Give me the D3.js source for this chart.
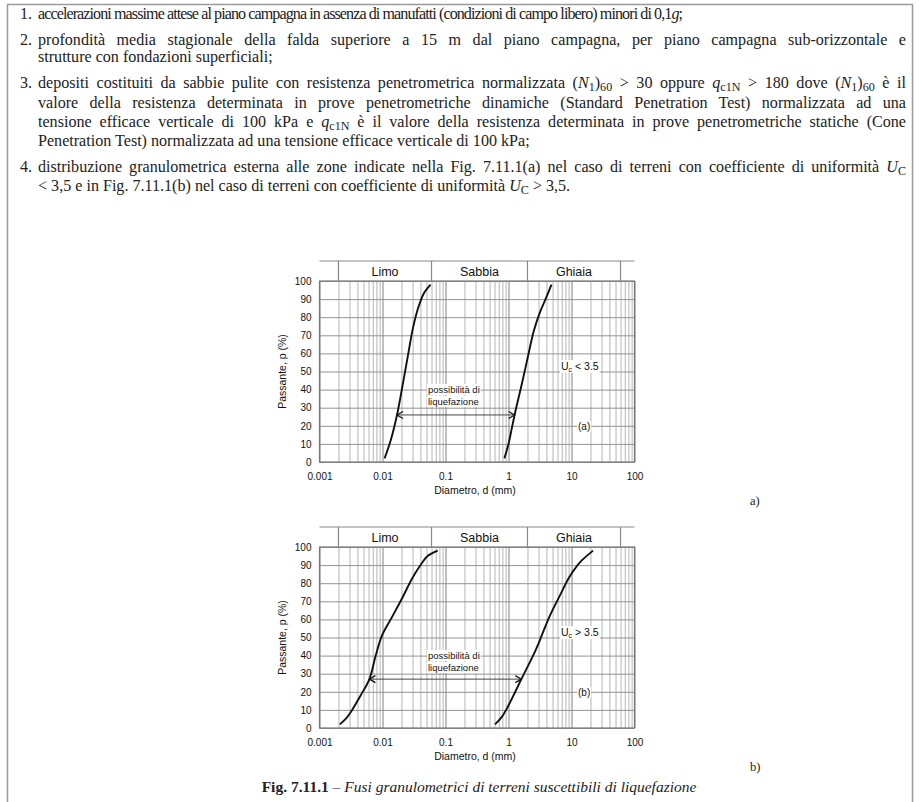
<!DOCTYPE html>
<html>
<head>
<meta charset="utf-8">
<script src="https://d3js.org/d3.v7.min.js"></script>
<style>
  body { margin: 0; background: #fff; }
</style>
</head>
<body>
<div id="pagina"></div>
<script>
// --- testo dell'elenco (markup minimo: <i>, <sub>)
var numeri = ["1.", "2.", "", "3.", "", "", "", "4.", ""];
var righe = [
  "accelerazioni massime attese al piano campagna in assenza di manufatti (condizioni di campo libero) minori di 0,1<i>g</i>;",
  "profondità media stagionale della falda superiore a 15 m dal piano campagna, per piano campagna sub-orizzontale e",
  "strutture con fondazioni superficiali;",
  "depositi costituiti da sabbie pulite con resistenza penetrometrica normalizzata (<i>N</i><sub>1</sub>)<sub>60</sub> > 30 oppure <i>q</i><sub>c1N</sub> > 180 dove (<i>N</i><sub>1</sub>)<sub>60</sub> è il",
  "valore della resistenza determinata in prove penetrometriche dinamiche (Standard Penetration Test) normalizzata ad una",
  "tensione efficace verticale di 100 kPa e <i>q</i><sub>c1N</sub> è il valore della resistenza determinata in prove penetrometriche statiche (Cone",
  "Penetration Test) normalizzata ad una tensione efficace verticale di 100 kPa;",
  "distribuzione granulometrica esterna alle zone indicate nella Fig. 7.11.1(a) nel caso di terreni con coefficiente di uniformità <i>U</i><sub>C</sub>",
  "< 3,5 e in Fig. 7.11.1(b) nel caso di terreni con coefficiente di uniformità <i>U</i><sub>C</sub> > 3,5."
];
// larghezza della riga: 868 = giustificata, 645 = prima riga (stretta nella scansione), 0 = naturale
var larghezze = [645, 868, 0, 868, 868, 868, 0, 868, 0];
var baseRighe = [19, 45, 62, 88, 108, 127, 146, 172, 191];

// --- dati dei grafici
var diametriTick = [0.001, 0.01, 0.1, 1, 10, 100];
var etichetteX = ["0.001", "0.01", "0.1", "1", "10", "100"];
var passanteTick = [0, 10, 20, 30, 40, 50, 60, 70, 80, 90, 100];
var classi = ["Limo", "Sabbia", "Ghiaia"];
var limitiClassi = [0.002, 0.06, 2, 60];

// fuso (a): Uc < 3.5  [diametro mm, passante %]
var fusoA_sx = [[0.0108, 2], [0.0135, 12], [0.017, 26], [0.0215, 45], [0.026, 61], [0.030, 73], [0.036, 84], [0.045, 93], [0.058, 98]];
var fusoA_dx = [[0.86, 2], [1.0, 10], [1.12, 18], [1.25, 26], [1.6, 42], [2.0, 57], [2.5, 72], [3.1, 82], [4.1, 92], [4.8, 98]];
// fuso (b): Uc > 3.5
var fusoB_sx = [[0.0021, 2], [0.0026, 5], [0.0033, 10], [0.0045, 18], [0.0062, 27], [0.0078, 40], [0.0098, 51], [0.014, 61], [0.020, 71], [0.030, 83], [0.042, 91], [0.052, 95], [0.075, 98]];
var fusoB_dx = [[0.61, 2], [0.78, 6], [0.95, 11], [1.2, 18], [1.6, 27], [2.7, 43], [4.4, 61], [6.5, 73], [9.1, 83], [12.5, 90], [15, 93], [22, 98]];

var W = 920, H = 802;
var svg = d3.select("#pagina").append("svg")
  .attr("width", W).attr("height", H)
  .style("background", "#fff");

// cornice della pagina
svg.append("rect")
  .attr("x", 7.5).attr("y", 4.5).attr("width", 905).attr("height", 830)
  .attr("fill", "none").attr("stroke", "#9a9a9a").attr("stroke-width", 1.5);

// scrive il markup dentro un <text> con tspan
function scrivi(t, markup) {
  var parti = markup.split(/(<i>.*?<\/i>|<sub>.*?<\/sub>)/);
  var giu = false;
  parti.forEach(function(p) {
    if (!p) return;
    var s = t.append("tspan");
    if (p.indexOf("<sub>") === 0) {
      s.text(p.slice(5, -6)).attr("font-size", "0.75em");
      if (!giu) { s.attr("dy", 3); giu = true; }
    } else {
      if (giu) { s.attr("dy", -3); giu = false; }
      if (p.indexOf("<i>") === 0) s.attr("font-style", "italic").text(p.slice(3, -4));
      else s.text(p);
    }
  });
}

// --- elenco puntato
var fontTesto = "'Liberation Serif', 'DejaVu Serif', serif";
var corpo = svg.append("g").attr("font-family", fontTesto).attr("fill", "#222");
// dimensione del carattere presa dalla riga "Penetration Test) ..." (termina a x ~ 530)
var prova = corpo.append("text").attr("font-size", 12);
scrivi(prova, righe[6]);
var dimFont = 12 * 492 / prova.node().getComputedTextLength();
prova.remove();
corpo.attr("font-size", dimFont);

righe.forEach(function(r, i) {
  var yb = baseRighe[i];
  if (numeri[i]) corpo.append("text").attr("x", 20).attr("y", yb).text(numeri[i]);
  var t = corpo.append("text").attr("x", 38).attr("y", yb);
  scrivi(t, r);
  var L = larghezze[i];
  if (L === 868) {
    // giustificato: allarga solo gli spazi tra le parole
    var nat = t.node().getComputedTextLength();
    var spazi = (t.node().textContent.match(/ /g) || []).length;
    t.attr("word-spacing", (L - nat) / spazi);
  } else if (L > 0) {
    t.attr("textLength", L).attr("lengthAdjust", "spacing");
  }
});

// --- grafici granulometrici
var fontGrafico = "'Liberation Sans', Arial, sans-serif";

function dAlPassante(curva, p) {
  for (var i = 0; i < curva.length - 1; i++) {
    var a = curva[i], b = curva[i + 1];
    if (p >= a[1] && p <= b[1]) {
      var t = (p - a[1]) / (b[1] - a[1]);
      return Math.pow(10, Math.log10(a[0]) + t * (Math.log10(b[0]) - Math.log10(a[0])));
    }
  }
  return curva[0][0];
}

// testo con riquadro bianco dietro
function etichetta(g, x, y, righeTesto, size) {
  var gg = g.append("g");
  var bg = gg.append("rect").attr("fill", "#fff");
  var t = gg.append("text").attr("x", x).attr("y", y).attr("font-size", size);
  righeTesto(t);
  var b = t.node().getBBox();
  bg.attr("x", b.x - 1).attr("y", b.y).attr("width", b.width + 2).attr("height", b.height);
}

function grafico(top, curve, segnoU, lettera, pFreccia) {
  var bottom = top + 181;
  var x = d3.scaleLog().domain([0.001, 100]).range([319.5, 634.5]);
  var y = d3.scaleLinear().domain([0, 100]).range([bottom, top]);
  var g = svg.append("g").attr("font-family", fontGrafico).attr("fill", "#111");

  // griglia verticale (log)
  var minori = [];
  for (var e = -3; e < 2; e++) for (var k = 2; k < 10; k++) minori.push(k * Math.pow(10, e));
  g.append("g").attr("transform", "translate(0," + bottom + ")")
    .call(d3.axisBottom(x).tickValues(minori).tickSize(-(bottom - top)).tickFormat(""))
    .call(function(a) {
      a.select(".domain").remove();
      a.selectAll("line").attr("stroke", "#adadad").attr("stroke-width", 0.9);
    });
  g.append("g").attr("transform", "translate(0," + bottom + ")")
    .call(d3.axisBottom(x).tickValues(diametriTick).tickSize(-(bottom - top)).tickFormat(""))
    .call(function(a) {
      a.select(".domain").remove();
      a.selectAll("line").attr("stroke", "#808080").attr("stroke-width", 1);
    });
  // griglia orizzontale
  g.append("g").attr("transform", "translate(" + x(0.001) + ",0)")
    .call(d3.axisLeft(y).tickValues(passanteTick).tickSize(-(x(100) - x(0.001))).tickFormat(""))
    .call(function(a) {
      a.select(".domain").remove();
      a.selectAll("line").attr("stroke", "#939393").attr("stroke-width", 1);
    });
  g.append("rect")
    .attr("x", x(0.001)).attr("y", top).attr("width", x(100) - x(0.001)).attr("height", bottom - top)
    .attr("fill", "none").attr("stroke", "#777").attr("stroke-width", 1.2);

  // intestazione Limo / Sabbia / Ghiaia
  var hTop = top - 20;
  g.append("line").attr("x1", x(0.001)).attr("x2", x(100)).attr("y1", hTop).attr("y2", hTop)
    .attr("stroke", "#888").attr("stroke-width", 1.2);
  g.selectAll(".div").data(limitiClassi).enter().append("line")
    .attr("x1", function(d) { return x(d); }).attr("x2", function(d) { return x(d); })
    .attr("y1", hTop).attr("y2", top)
    .attr("stroke", "#888").attr("stroke-width", 1.2);
  g.selectAll(".cl").data(classi).enter().append("text")
    .attr("x", function(d, i) { return x(Math.sqrt(limitiClassi[i] * limitiClassi[i + 1])); })
    .attr("y", top - 5.5)
    .attr("text-anchor", "middle").attr("font-size", 12.5)
    .text(function(d) { return d; });

  // assi: etichette
  g.append("g").attr("transform", "translate(0," + bottom + ")")
    .call(d3.axisBottom(x).tickValues(diametriTick).tickSize(0).tickPadding(11)
      .tickFormat(function(d, i) { return etichetteX[i]; }))
    .call(function(a) {
      a.select(".domain").remove();
      a.selectAll("text").attr("font-family", fontGrafico).attr("font-size", 10).attr("fill", "#111");
    });
  g.append("g").attr("transform", "translate(" + (x(0.001) - 6) + ",0)")
    .call(d3.axisLeft(y).tickValues(passanteTick).tickSize(0).tickPadding(2))
    .call(function(a) {
      a.select(".domain").remove();
      a.selectAll("text").attr("font-family", fontGrafico).attr("font-size", 10).attr("fill", "#111");
    });
  g.append("text")
    .attr("transform", "translate(286," + (top + bottom) / 2 + ") rotate(-90)")
    .attr("text-anchor", "middle").attr("font-size", 10.5)
    .text("Passante, p (%)");
  g.append("text")
    .attr("x", (x(0.001) + x(100)) / 2 - 2).attr("y", bottom + 32)
    .attr("text-anchor", "middle").attr("font-size", 10.5)
    .text("Diametro, d (mm)");

  // fusi granulometrici
  var linea = d3.line()
    .x(function(d) { return x(d[0]); })
    .y(function(d) { return y(d[1]); })
    .curve(d3.curveCatmullRom.alpha(0.5));
  g.selectAll(".fuso").data(curve).enter().append("path")
    .attr("d", linea)
    .attr("fill", "none").attr("stroke", "#111").attr("stroke-width", 1.9);

  // freccia "possibilità di liquefazione"
  var xs = x(dAlPassante(curve[0], pFreccia)), xd = x(dAlPassante(curve[1], pFreccia)), yf = y(pFreccia);
  g.append("line").attr("x1", xs).attr("x2", xd).attr("y1", yf).attr("y2", yf)
    .attr("stroke", "#333").attr("stroke-width", 0.9);
  g.append("path")
    .attr("d", "M" + (xs + 6) + "," + (yf - 3.5) + "L" + xs + "," + yf + "L" + (xs + 6) + "," + (yf + 3.5)
      + "M" + (xd - 6) + "," + (yf - 3.5) + "L" + xd + "," + yf + "L" + (xd - 6) + "," + (yf + 3.5))
    .attr("fill", "none").attr("stroke", "#111").attr("stroke-width", 1.2);

  etichetta(g, 428, top + 112, function(t) { t.text("possibilità di"); }, 9.5);
  etichetta(g, 428, top + 124, function(t) { t.text("liquefazione"); }, 9.5);
  etichetta(g, 561, top + 89, function(t) {
    t.append("tspan").text("U");
    t.append("tspan").attr("font-size", 7).attr("dy", 2).text("c");
    t.append("tspan").attr("dy", -2).text(" " + segnoU + " 3.5");
  }, 10.5);
  etichetta(g, 578, top + 149, function(t) { t.text("(" + lettera + ")"); }, 10);

  svg.append("text").attr("x", 750).attr("y", bottom + 43)
    .attr("font-family", fontTesto).attr("font-size", 12.5).attr("fill", "#222")
    .text(lettera + ")");
}

grafico(281, [fusoA_sx, fusoA_dx], "<", "a", 26);
grafico(547, [fusoB_sx, fusoB_dx], ">", "b", 27);

// didascalia
var did = svg.append("text").attr("x", 479).attr("y", 792)
  .attr("text-anchor", "middle").attr("font-family", fontTesto).attr("font-size", 12).attr("fill", "#222");
did.append("tspan").attr("font-weight", "bold").text("Fig. 7.11.1");
did.append("tspan").text(" – ");
did.append("tspan").attr("font-style", "italic").text("Fusi granulometrici di terreni suscettibili di liquefazione");
did.attr("font-size", 12 * 435 / did.node().getComputedTextLength());
</script>
</body>
</html>
